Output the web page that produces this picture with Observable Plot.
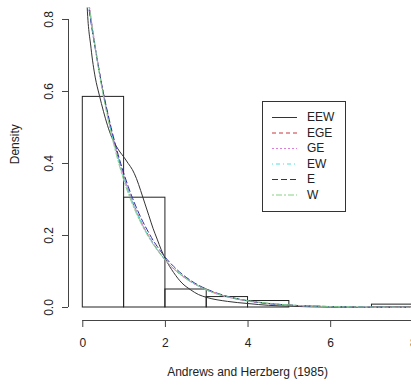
<!DOCTYPE html>
<html>
<head>
<meta charset="utf-8">
<script src="https://cdn.jsdelivr.net/npm/d3@7"></script>
<script src="https://cdn.jsdelivr.net/npm/@observablehq/plot@0.6"></script>
<style>
  html, body { margin: 0; padding: 0; background: #fff; overflow: hidden; }
  #wrap { position: relative; width: 426px; height: 385px; overflow: hidden; }
  #wrap svg.main { max-width: none !important; width: 426px; height: 385px; }
  #legend { position: absolute; left: 262px; top: 101px; }
  text { font-family: "Liberation Sans", Arial, sans-serif; }
</style>
</head>
<body>
<div id="wrap"></div>
<script>
// Histogram (bins of width 1) densities
const binStart = [0, 1, 2, 3, 4, 5, 6, 7];
const binDensity = [0.585, 0.305, 0.05, 0.029, 0.018, 0, 0, 0.008];

// Fitted density curves
const xGrid = [0, 0.05, 0.1, 0.2, 0.3, 0.4, 0.5, 0.6, 0.7, 0.8, 0.9, 1.0, 1.1, 1.2, 1.3, 1.4, 1.5, 1.6, 1.7, 1.8, 1.9, 2.0, 2.2, 2.4, 2.6, 2.8, 3.0, 3.5, 4.0, 4.5, 5.0, 6.0, 7.0, 8.0];
const eew = [1.6, 1.1, 0.85, 0.72, 0.64, 0.59, 0.545, 0.505, 0.473, 0.45, 0.432, 0.417, 0.4, 0.383, 0.358, 0.325, 0.29, 0.255, 0.22, 0.19, 0.16, 0.135, 0.097, 0.068, 0.05, 0.036, 0.028, 0.017, 0.011, 0.006, 0.0035, 0.001, 0.0003, 0.0001];
const ege = [0.98, 0.93, 0.885, 0.80, 0.725, 0.655, 0.593, 0.537, 0.486, 0.44, 0.398, 0.36, 0.326, 0.295, 0.267, 0.241, 0.218, 0.198, 0.179, 0.162, 0.146, 0.132, 0.108, 0.089, 0.073, 0.06, 0.049, 0.03, 0.018, 0.011, 0.0067, 0.0025, 0.0009, 0.0003];
const ge  = [0.99, 0.94, 0.89, 0.805, 0.728, 0.657, 0.594, 0.537, 0.486, 0.44, 0.398, 0.36, 0.326, 0.295, 0.266, 0.240, 0.217, 0.197, 0.178, 0.161, 0.145, 0.131, 0.107, 0.088, 0.072, 0.059, 0.048, 0.029, 0.018, 0.011, 0.0066, 0.0024, 0.0009, 0.0003];
const ew  = [0.97, 0.925, 0.88, 0.797, 0.722, 0.653, 0.591, 0.535, 0.484, 0.438, 0.396, 0.358, 0.324, 0.293, 0.265, 0.240, 0.217, 0.197, 0.178, 0.161, 0.146, 0.132, 0.108, 0.089, 0.073, 0.06, 0.049, 0.03, 0.018, 0.011, 0.0067, 0.0025, 0.0009, 0.0003];
const e   = [0.95, 0.91, 0.87, 0.79, 0.72, 0.655, 0.595, 0.542, 0.493, 0.448, 0.407, 0.37, 0.336, 0.305, 0.277, 0.251, 0.228, 0.207, 0.187, 0.17, 0.154, 0.139, 0.114, 0.093, 0.076, 0.062, 0.051, 0.031, 0.019, 0.011, 0.0068, 0.0025, 0.0009, 0.0003];
const w   = [1.0, 0.945, 0.89, 0.80, 0.722, 0.65, 0.586, 0.528, 0.476, 0.43, 0.388, 0.35, 0.317, 0.287, 0.26, 0.236, 0.214, 0.194, 0.176, 0.16, 0.145, 0.131, 0.108, 0.089, 0.073, 0.06, 0.049, 0.03, 0.019, 0.012, 0.0072, 0.0027, 0.001, 0.0004];

const seriesNames = ["EEW", "EGE", "GE", "EW", "E", "W"];
const seriesValues = [eew, ege, ge, ew, e, w];
const seriesColors = ["#333333", "#C8373A", "#DA80DA", "#50E0E0", "#2A2AA0", "#88D088"];
const seriesDash = [null, "4,3", "2,2", "1,3,4,3", "6,3", "2,2,6,2"];

const xTicks = [0, 2, 4, 6, 8];
const yTicks = [0, 0.2, 0.4, 0.6, 0.8];
const xLabel = "Andrews and Herzberg (1985)";
const yLabel = "Density";

const xDomain = [-0.346, 8.32];
const yDomain = [-0.0361, 0.8319];

const bins = binStart.map((b, i) => ({x1: b, x2: b + 1, d: binDensity[i]}));
const curves = seriesNames.map((name, i) => ({
  name, color: seriesColors[i], dash: seriesDash[i],
  pts: xGrid.map((x, j) => ({x, y: seriesValues[i][j]}))
}));
// drawn in legend order: EEW first, W last (on top)
const curveMarks = curves.map(c =>
  Plot.line(c.pts, {x: "x", y: "y", stroke: c.color, strokeWidth: 1, strokeDasharray: c.dash, clip: true, curve: "monotone-x"})
);

const font = "Liberation Sans, Arial, sans-serif";

const chart = Plot.plot({
  width: 426,
  height: 385,
  marginLeft: 68,
  marginRight: 0,
  marginTop: 7.5,
  marginBottom: 65,
  style: {fontFamily: font, fontSize: "12px", color: "#222", background: "#fff", overflow: "visible"},
  x: {domain: xDomain, axis: null},
  y: {domain: yDomain, axis: null},
  marks: [
    Plot.rectY(bins, {x1: "x1", x2: "x2", y1: 0, y2: "d", fill: "none", stroke: "#222", strokeWidth: 1}),
    ...curveMarks,
    Plot.ruleY([yDomain[0]], {x1: xTicks[0], x2: xTicks[xTicks.length - 1], stroke: "#444"}),
    Plot.ruleX([xDomain[0]], {y1: yTicks[0], y2: yTicks[yTicks.length - 1], stroke: "#444"}),
    Plot.axisX({ticks: xTicks, tickSize: 7, tickPadding: 11, tickFormat: d => String(d), fontSize: 12, stroke: "#444", color: "#222", label: null}),
    Plot.axisY({ticks: yTicks, tickSize: 6, tickPadding: 10, tickRotate: -90, tickFormat: d3.format(".1f"), fontSize: 12, stroke: "#444", label: null}),
    Plot.text([xLabel], {frameAnchor: "bottom", dy: 55, text: d => d, fontSize: 12, fill: "#222"}),
    Plot.text([yLabel], {frameAnchor: "left", dx: -53, rotate: -90, text: d => d, fontSize: 12, fill: "#222"})
  ]
});
chart.classList.add("main");
chart.style.maxWidth = "none";
chart.style.width = "426px";
chart.style.height = "385px";
document.getElementById("wrap").appendChild(chart);

// Legend
const lw = 84, lh = 111, rowH = 15.5, row0 = 16;
const leg = d3.select("#wrap").append("svg")
  .attr("id", "legend").attr("width", lw).attr("height", lh);
leg.append("rect").attr("x", 0.5).attr("y", 0.5).attr("width", lw - 1).attr("height", lh - 1)
  .attr("fill", "#fff").attr("stroke", "#333");
const rows = leg.selectAll("g").data(curves).join("g")
  .attr("transform", (d, i) => `translate(0,${row0 + i * rowH})`);
rows.append("line").attr("x1", 10).attr("x2", 35).attr("y1", 0.5).attr("y2", 0.5)
  .attr("stroke", d => d.color).attr("stroke-width", 1)
  .attr("stroke-dasharray", d => d.dash);
rows.append("text").attr("x", 45).attr("y", 0).attr("dy", "0.35em")
  .attr("font-family", font).attr("font-size", 12).attr("fill", "#222")
  .text(d => d.name);
</script>
</body>
</html>
